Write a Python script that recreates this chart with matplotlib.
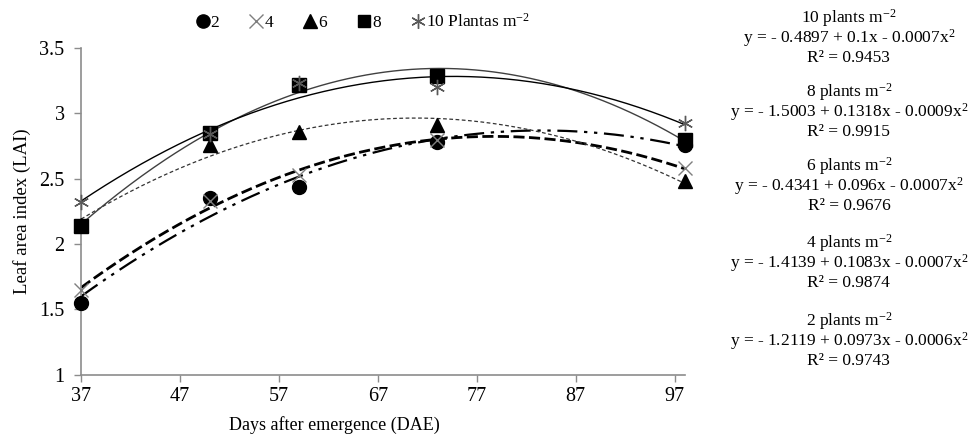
import numpy as np
import matplotlib
matplotlib.use('Agg')
import matplotlib.pyplot as plt
from matplotlib.lines import Line2D

plt.rcParams['font.family'] = ['Liberation Serif', 'DejaVu Serif']
plt.rcParams['mathtext.fontset'] = 'custom'
plt.rcParams['mathtext.rm'] = 'Liberation Serif'
plt.rcParams['mathtext.it'] = 'Liberation Serif:italic'

# data
days = [37, 50, 59, 73, 98]
p2 = [1.55, 2.35, 2.44, 2.78, 2.76]
p4 = [1.65, 2.33, 2.53, 2.80, 2.58]
p6 = [2.15, 2.76, 2.86, 2.91, 2.48]
p8 = [2.14, 2.85, 3.22, 3.29, 2.80]
p10 = [2.32, 2.84, 3.23, 3.20, 2.93]

labels = ['2', '4', '6', '8', '10 Plantas m$^{-2}$']
eq_titles = ['10 plants m$^{-2}$', '8 plants m$^{-2}$', '6 plants m$^{-2}$',
             '4 plants m$^{-2}$', '2 plants m$^{-2}$']
eq_lines = ['y = - 0.4897 + 0.1x - 0.0007x$^{2}$',
            'y = - 1.5003 + 0.1318x - 0.0009x$^{2}$',
            'y = - 0.4341 + 0.096x - 0.0007x$^{2}$',
            'y = - 1.4139 + 0.1083x - 0.0007x$^{2}$',
            'y = - 1.2119 + 0.0973x - 0.0006x$^{2}$']
r2 = ['R² = 0.9453', 'R² = 0.9915', 'R² = 0.9676', 'R² = 0.9874', 'R² = 0.9743']

fig = plt.figure(figsize=(9.78, 4.41), dpi=100)
ax = fig.add_axes([0.083, 0.150, 0.617, 0.741])

series = [p2, p4, p6, p8, p10]
markers = ['o', 'x', '^', 's', (6, 2, 0)]
mcol = ['black', '#7f7f7f', 'black', 'black', '#595959']
msize = [10, 10, 10, 9.5, 11]
styles = [(0, (9, 3, 1.5, 3, 1.5, 3)), (0, (4, 1.6)), (0, (3, 2)), '-', '-']
lws = [1.6, 2.0, 0.9, 1.0, 1.0]
lcol = ['black', 'black', '#333333', '#404040', 'black']

xs = np.linspace(37, 98, 200)
for s, ls, lw, lc in zip(series, styles, lws, lcol):
    c = np.polyfit(days, s, 2)  # quadratic trendline like excel
    ax.plot(xs, np.polyval(c, xs), linestyle=ls, linewidth=lw, color=lc, zorder=2)

handles = []
for s, m, mc, ms in zip(series, markers, mcol, msize):
    ax.plot(days, s, linestyle='none', marker=m, color=mc, markersize=ms,
            markeredgewidth=1.0, zorder=3, clip_on=False)
    handles.append(Line2D([], [], linestyle='none', marker=m, color=mc,
                          markersize=ms * 0.95, markeredgewidth=1.0))

ax.set_xlim(37, 98)
ax.set_ylim(1, 3.5)
ax.set_xticks(range(37, 98, 10))
ax.set_yticks([1, 1.5, 2, 2.5, 3, 3.5])
ax.set_yticklabels(['1', '1.5', '2', '2.5', '3', '3.5'])
for sp in ['top', 'right']:
    ax.spines[sp].set_visible(False)
for sp in ['left', 'bottom']:
    ax.spines[sp].set_color('#8c8c8c')
    ax.spines[sp].set_linewidth(1.2)
ax.tick_params(axis='both', colors='#8c8c8c', labelcolor='black', labelsize=14.5,
               length=5, width=1.0, direction='out')
ax.tick_params(axis='y', pad=7)
ax.tick_params(axis='x', pad=4)
ax.set_xlabel('Days after emergence (DAE)', fontsize=13)
ax.xaxis.set_label_coords(0.42, -0.125)
ax.set_ylabel('Leaf area index (LAI)', fontsize=13.5)
ax.yaxis.set_label_coords(-0.083, 0.5)

fig.legend(handles, labels, loc='center left', bbox_to_anchor=(0.184, 0.95), ncol=5,
           frameon=False, fontsize=12.5, handlelength=0.8, handletextpad=0.05,
           columnspacing=1.75)

# equation block on the right
ys = [18, 92, 166, 243, 321]
for t, e, r, y0 in zip(eq_titles, eq_lines, r2, ys):
    fig.text(0.868, 1 - y0 / 441, t, ha='center', va='center', fontsize=12.5)
    fig.text(0.868, 1 - (y0 + 20) / 441, e, ha='center', va='center', fontsize=12.5)
    fig.text(0.868, 1 - (y0 + 40) / 441, r, ha='center', va='center', fontsize=12.5)

fig.savefig('out.png', dpi=100)
